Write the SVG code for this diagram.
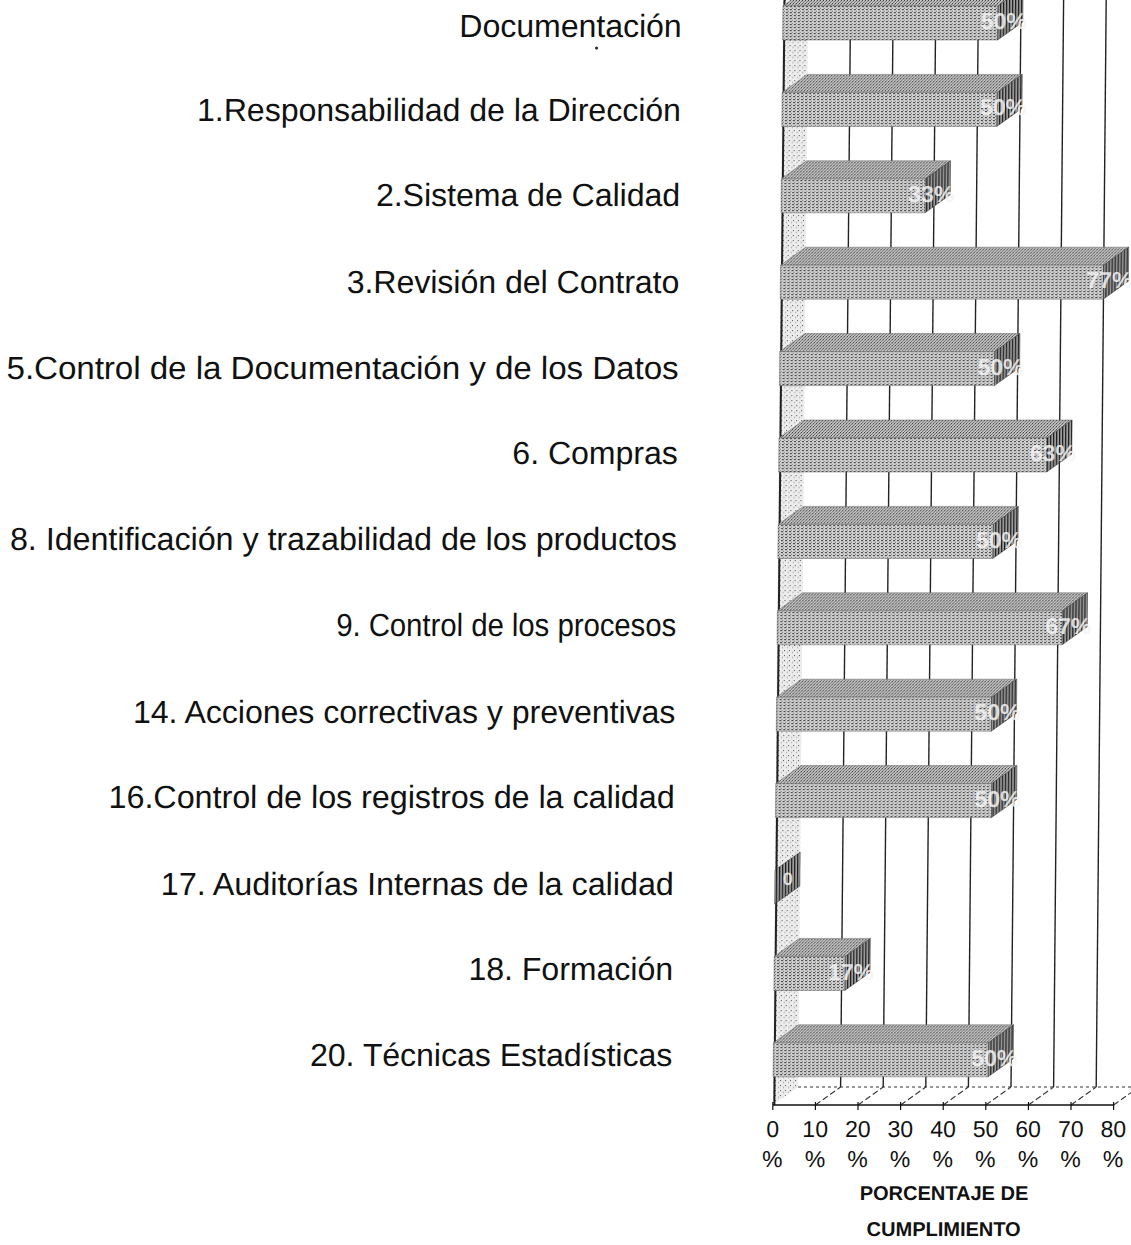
<svg xmlns="http://www.w3.org/2000/svg" width="1131" height="1245" viewBox="0 0 1131 1245">
<style>
.lbl{font-family:"Liberation Sans",Arial,sans-serif;font-size:32px;fill:#111;text-anchor:end}
.ax{font-family:"Liberation Sans",Arial,sans-serif;font-size:23px;fill:#111;text-anchor:middle}
.ttl{font-family:"Liberation Sans",Arial,sans-serif;font-size:20px;font-weight:bold;fill:#111;text-anchor:middle}
.val{font-family:"Liberation Sans",Arial,sans-serif;font-size:23px;font-weight:bold;fill:#f4f4f4;fill-opacity:0.85;text-anchor:middle}
.grid{stroke:#222;stroke-width:1.4;fill:none}
.front{fill:url(#pFront);stroke:#666;stroke-width:0.5}
.top{fill:url(#pTop);stroke:#666;stroke-width:0.5}
.end{fill:url(#pEnd);stroke:#333;stroke-width:0.5}
</style>
<defs>
<pattern id="pFront" width="4" height="3" patternUnits="userSpaceOnUse">
<rect width="4" height="3" fill="#d2d2d2"/>
<rect x="0" y="0" width="2" height="1" fill="#3a3a3a"/>
<rect x="2" y="2" width="1" height="1" fill="#777"/>
</pattern>
<pattern id="pTop" width="3" height="3" patternUnits="userSpaceOnUse">
<rect width="3" height="3" fill="#cacaca"/>
<rect x="0" y="0" width="1" height="1" fill="#2a2a2a"/>
<rect x="2" y="1" width="1" height="1" fill="#555"/>
<rect x="1" y="2" width="1" height="1" fill="#666"/>
</pattern>
<pattern id="pEnd" width="3" height="3" patternUnits="userSpaceOnUse">
<rect width="3" height="3" fill="#a0a0a0"/>
<rect x="0" y="0" width="1.3" height="3" fill="#1e1e1e"/>
</pattern>
<pattern id="pWall" width="5" height="5" patternUnits="userSpaceOnUse">
<rect width="5" height="5" fill="#ececec"/>
<rect x="0" y="0" width="1" height="1" fill="#555"/>
<rect x="3" y="2" width="1" height="1" fill="#888"/>
</pattern>
</defs>
<rect width="1131" height="1245" fill="#fff"/>
<g transform="translate(10,0) skewX(-0.527)">
<g id="labels">
<text class="lbl" x="672" y="37">Documentación</text>
<text class="lbl" x="672" y="121">1.Responsabilidad de la Dirección</text>
<text class="lbl" x="672" y="206">2.Sistema de Calidad</text>
<text class="lbl" x="672" y="293">3.Revisión del Contrato</text>
<text class="lbl" x="672" y="379" textLength="672" lengthAdjust="spacingAndGlyphs">5.Control de la Documentación y de los Datos</text>
<text class="lbl" x="672" y="464">6. Compras</text>
<text class="lbl" x="672" y="550" textLength="667" lengthAdjust="spacingAndGlyphs">8. Identificación y trazabilidad de los productos</text>
<text class="lbl" x="672" y="636" textLength="340" lengthAdjust="spacingAndGlyphs">9. Control de los procesos</text>
<text class="lbl" x="672" y="723">14. Acciones correctivas y preventivas</text>
<text class="lbl" x="672" y="808" textLength="566" lengthAdjust="spacingAndGlyphs">16.Control de los registros de la calidad</text>
<text class="lbl" x="672" y="895" textLength="513" lengthAdjust="spacingAndGlyphs">17. Auditorías Internas de la calidad</text>
<text class="lbl" x="672" y="980">18. Formación</text>
<text class="lbl" x="672" y="1066">20. Técnicas Estadísticas</text>
<circle cx="587" cy="48" r="1.5" fill="#222"/>
</g>
<g id="chart-frame">
<polygon points="773,1105 798,1087 798,0 773,0" fill="url(#pWall)"/>
<line x1="774.5" y1="0" x2="774.5" y2="1105" stroke="#222" stroke-width="2"/>
<g class="grid">
<line x1="840.6" y1="0" x2="840.6" y2="1087"/>
<line x1="883.2" y1="0" x2="883.2" y2="1087"/>
<line x1="925.8" y1="0" x2="925.8" y2="1087"/>
<line x1="968.4" y1="0" x2="968.4" y2="1087"/>
<line x1="1011" y1="0" x2="1011" y2="1087"/>
<line x1="1053.6" y1="0" x2="1053.6" y2="1087"/>
<line x1="1096.2" y1="0" x2="1096.2" y2="1087"/>
</g>
<line x1="798" y1="1087" x2="1131" y2="1087" stroke="#333" stroke-width="1" stroke-dasharray="3,3"/>
<g stroke="#333" stroke-width="1" stroke-dasharray="6,3">
<line x1="815.6" y1="1105" x2="840.6" y2="1087"/>
<line x1="858.2" y1="1105" x2="883.2" y2="1087"/>
<line x1="900.8" y1="1105" x2="925.8" y2="1087"/>
<line x1="943.4" y1="1105" x2="968.4" y2="1087"/>
<line x1="986" y1="1105" x2="1011" y2="1087"/>
<line x1="1028.6" y1="1105" x2="1053.6" y2="1087"/>
<line x1="1071.2" y1="1105" x2="1096.2" y2="1087"/>
<line x1="1113.8" y1="1105" x2="1131" y2="1092.6"/>
</g>
<line x1="773" y1="1105" x2="1114" y2="1105" stroke="#111" stroke-width="1.6"/>
<g stroke="#111" stroke-width="1.2">
<line x1="773" y1="1102" x2="773" y2="1110"/>
<line x1="815.6" y1="1102" x2="815.6" y2="1110"/>
<line x1="858.2" y1="1102" x2="858.2" y2="1110"/>
<line x1="900.8" y1="1102" x2="900.8" y2="1110"/>
<line x1="943.4" y1="1102" x2="943.4" y2="1110"/>
<line x1="986" y1="1102" x2="986" y2="1110"/>
<line x1="1028.6" y1="1102" x2="1028.6" y2="1110"/>
<line x1="1071.2" y1="1102" x2="1071.2" y2="1110"/>
<line x1="1113.8" y1="1102" x2="1113.8" y2="1110"/>
</g>
</g>
<g id="bars">
<g id="bar-doc"><polygon class="top" points="773,6 988,6 1013,-12 798,-12"/><rect class="front" x="773" y="6" width="215" height="34"/><polygon class="end" points="988,6 1013,-12 1013,22 988,40"/><text class="val" x="994" y="29">50%</text></g>
<g id="bar-1"><polygon class="top" points="773,92.4 988,92.4 1013,74.4 798,74.4"/><rect class="front" x="773" y="92.4" width="215" height="34"/><polygon class="end" points="988,92.4 1013,74.4 1013,108.4 988,126.4"/><text class="val" x="994" y="115">50%</text></g>
<g id="bar-2"><polygon class="top" points="773,178.8 917,178.8 942,160.8 798,160.8"/><rect class="front" x="773" y="178.8" width="144" height="34"/><polygon class="end" points="917,178.8 942,160.8 942,194.8 917,212.8"/><text class="val" x="923" y="202">33%</text></g>
<g id="bar-3"><polygon class="top" points="773,265.2 1096,265.2 1121,247.2 798,247.2"/><rect class="front" x="773" y="265.2" width="323" height="34"/><polygon class="end" points="1096,265.2 1121,247.2 1121,281.2 1096,299.2"/><text class="val" x="1102" y="288">77%</text></g>
<g id="bar-5"><polygon class="top" points="773,351.6 988,351.6 1013,333.6 798,333.6"/><rect class="front" x="773" y="351.6" width="215" height="34"/><polygon class="end" points="988,351.6 1013,333.6 1013,367.6 988,385.6"/><text class="val" x="994" y="375">50%</text></g>
<g id="bar-6"><polygon class="top" points="773,438 1041,438 1066,420 798,420"/><rect class="front" x="773" y="438" width="268" height="34"/><polygon class="end" points="1041,438 1066,420 1066,454 1041,472"/><text class="val" x="1047" y="461">63%</text></g>
<g id="bar-8"><polygon class="top" points="773,524.4 988,524.4 1013,506.4 798,506.4"/><rect class="front" x="773" y="524.4" width="215" height="34"/><polygon class="end" points="988,524.4 1013,506.4 1013,540.4 988,558.4"/><text class="val" x="994" y="548">50%</text></g>
<g id="bar-9"><polygon class="top" points="773,610.8 1058,610.8 1083,592.8 798,592.8"/><rect class="front" x="773" y="610.8" width="285" height="34"/><polygon class="end" points="1058,610.8 1083,592.8 1083,626.8 1058,644.8"/><text class="val" x="1064" y="634">67%</text></g>
<g id="bar-14"><polygon class="top" points="773,697.2 988,697.2 1013,679.2 798,679.2"/><rect class="front" x="773" y="697.2" width="215" height="34"/><polygon class="end" points="988,697.2 1013,679.2 1013,713.2 988,731.2"/><text class="val" x="994" y="720">50%</text></g>
<g id="bar-16"><polygon class="top" points="773,783.6 989,783.6 1014,765.6 798,765.6"/><rect class="front" x="773" y="783.6" width="216" height="34"/><polygon class="end" points="989,783.6 1014,765.6 1014,799.6 989,817.6"/><text class="val" x="995" y="807">50%</text></g>
<g id="bar-17"><polygon class="end" points="773,870 798,852 798,886 773,904"/><text class="val" x="786" y="885" style="font-size:18px">0</text></g>
<g id="bar-18"><polygon class="top" points="773,956.4 844,956.4 869,938.4 798,938.4"/><rect class="front" x="773" y="956.4" width="71" height="34"/><polygon class="end" points="844,956.4 869,938.4 869,972.4 844,990.4"/><text class="val" x="850" y="980">17%</text></g>
<g id="bar-20"><polygon class="top" points="773,1042.8 988,1042.8 1013,1024.8 798,1024.8"/><rect class="front" x="773" y="1042.8" width="215" height="34"/><polygon class="end" points="988,1042.8 1013,1024.8 1013,1058.8 988,1076.8"/><text class="val" x="994" y="1066">50%</text></g>
</g>
<g id="axis-labels">
<text class="ax" x="773" y="1137">0</text>
<text class="ax" x="815.6" y="1137">10</text>
<text class="ax" x="858.2" y="1137">20</text>
<text class="ax" x="900.8" y="1137">30</text>
<text class="ax" x="943.4" y="1137">40</text>
<text class="ax" x="986" y="1137">50</text>
<text class="ax" x="1028.6" y="1137">60</text>
<text class="ax" x="1071.2" y="1137">70</text>
<text class="ax" x="1113.8" y="1137">80</text>
<text class="ax" x="773" y="1167">%</text>
<text class="ax" x="815.6" y="1167">%</text>
<text class="ax" x="858.2" y="1167">%</text>
<text class="ax" x="900.8" y="1167">%</text>
<text class="ax" x="943.4" y="1167">%</text>
<text class="ax" x="986" y="1167">%</text>
<text class="ax" x="1028.6" y="1167">%</text>
<text class="ax" x="1071.2" y="1167">%</text>
<text class="ax" x="1113.8" y="1167">%</text>
<text class="ttl" x="945" y="1200">PORCENTAJE DE</text>
<text class="ttl" x="945" y="1236">CUMPLIMIENTO</text>
</g>
</g>
</svg>
